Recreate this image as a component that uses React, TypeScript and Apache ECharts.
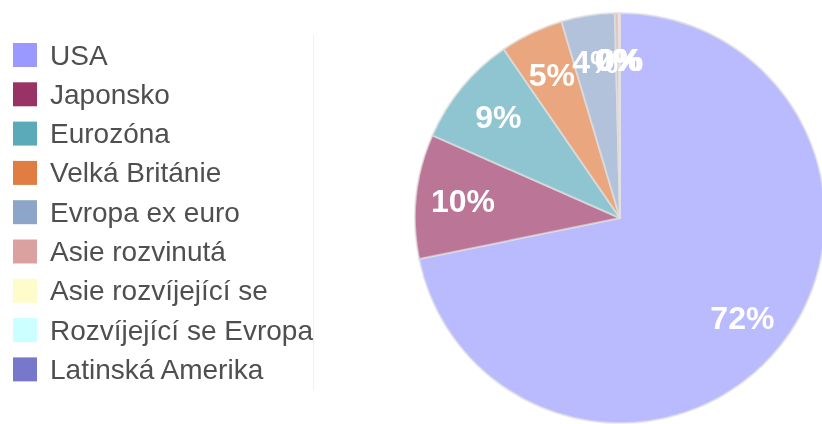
import React, { useEffect, useRef } from "react";
import * as echarts from "echarts";

const categories = [
  "USA",
  "Japonsko",
  "Eurozóna",
  "Velká Británie",
  "Evropa ex euro",
  "Asie rozvinutá",
  "Asie rozvíjející se",
  "Rozvíjející se Evropa",
  "Latinská Amerika",
];
const values = [71.8, 9.8, 8.8, 5.0, 4.2, 0.3, 0.1, 0, 0];
const colors = [
  "#9999ff",
  "#993366",
  "#5aaab9",
  "#e07d42",
  "#8ca5c8",
  "#dba0a0",
  "#fffccc",
  "#ccffff",
  "#7777cc",
];

const FONT = "'Liberation Sans', Arial, Helvetica, sans-serif";

export default function App() {
  const ref = useRef<HTMLDivElement>(null);
  useEffect(() => {
    if (!ref.current) return;
    const chart = echarts.init(ref.current, null, { renderer: "svg" });
    const data = categories.map((name, i) => ({
      name,
      value: values[i],
      itemStyle: { color: colors[i] },
    }));
    chart.setOption({
      animation: false,
      legend: {
        orient: "vertical",
        left: 13,
        top: 41,
        padding: 0,
        itemWidth: 24,
        itemHeight: 24,
        itemGap: 11.3,
        icon: "rect",
        selectedMode: false,
        itemStyle: { opacity: 1, borderWidth: 0 },
        data: categories,
        textStyle: {
          fontFamily: FONT,
          fontSize: 28,
          color: "#4f4f4f",
          lineHeight: 24,
          padding: [0, 0, 0, 8],
        },
      },
      graphic: [
        {
          type: "line",
          shape: { x1: 313.5, y1: 35, x2: 313.5, y2: 390 },
          style: { stroke: "#f0f0f0", lineWidth: 1 },
        },
      ],
      series: [
        {
          type: "pie",
          center: [620, 218],
          radius: [0, 205],
          startAngle: 90,
          clockwise: true,
          silent: true,
          data,
          itemStyle: {
            opacity: 0.68,
            borderColor: "#e2e2e2",
            borderWidth: 2,
          },
          label: { show: false },
          labelLine: { show: false },
        },
        {
          type: "pie",
          center: [620, 218],
          radius: [105, 205],
          startAngle: 90,
          clockwise: true,
          silent: true,
          legendHoverLink: false,
          avoidLabelOverlap: false,
          labelLayout: { hideOverlap: false },
          data: categories.map((name, i) => ({
            name,
            value: values[i],
            itemStyle: { color: "rgba(0,0,0,0)" },
          })),
          itemStyle: { borderWidth: 0 },
          label: {
            show: true,
            position: "inside",
            formatter: (p: any) => Math.round(p.percent) + "%",
            color: "#ffffff",
            fontFamily: FONT,
            fontWeight: "bold",
            fontSize: 32,
          },
          labelLine: { show: false },
        },
      ],
    });
    return () => chart.dispose();
  }, []);
  return (
    <div
      ref={ref}
      style={{ position: "fixed", left: 0, top: 0, width: 822, height: 424 }}
    />
  );
}
